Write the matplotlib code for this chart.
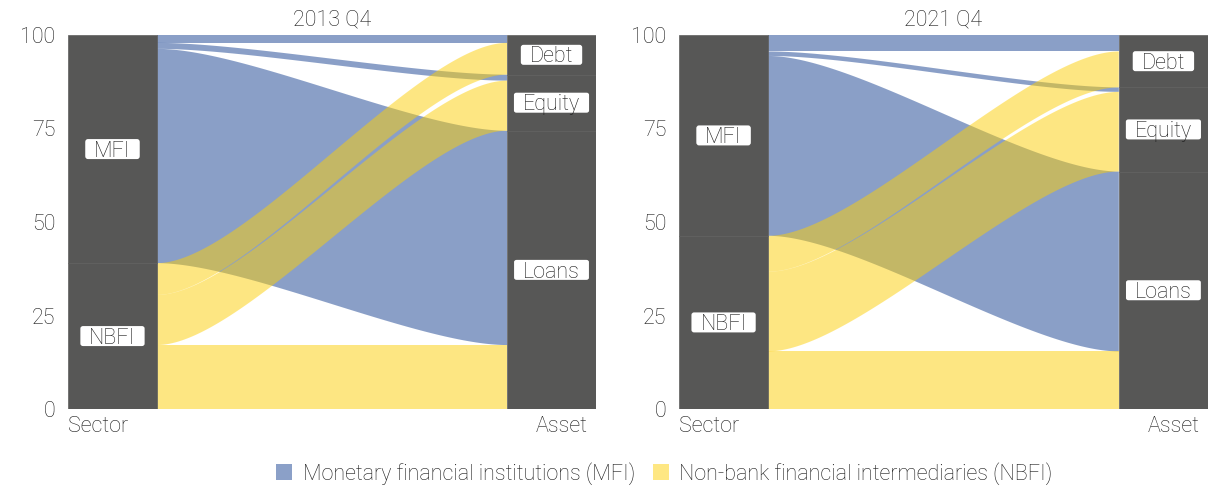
import numpy as np
import matplotlib
matplotlib.use("Agg")
import matplotlib.pyplot as plt
import matplotlib.transforms as mtransforms
from matplotlib.patches import Patch, FancyBboxPatch

plt.rcParams['font.family'] = ['Roboto', 'DejaVu Sans']
plt.rcParams['font.weight'] = 'light'

# datos (porcentaje del total)
sectors = ['NBFI', 'MFI']              # de abajo hacia arriba
assets = ['Loans', 'Equity', 'Debt']   # de abajo hacia arriba
titles = ['2013 Q4', '2021 Q4']
flows_2013 = {'MFI': [57.3, 1.6, 2.1], 'NBFI': [17.1, 13.4, 8.5]}
flows_2021 = {'MFI': [48.1, 1.2, 4.4], 'NBFI': [15.4, 21.3, 9.6]}
legend_labels = ['Monetary financial institutions (MFI)',
                 'Non-bank financial intermediaries (NBFI)']

colors = {'MFI': '#174191', 'NBFI': '#FDCF07'}
bar_color = '#575756'
txt_color = '#1a1a1a'
fs = 15.5
w = 0.2027
labels = []   # (ax, texto) para dibujar las cajas despues


def curve(t):
    # bezier con nudos a 1/4 y 3/4
    xb = 0.75 * (1 - t) ** 2 * t + 2.25 * (1 - t) * t ** 2 + t ** 3
    yb = 3 * t ** 2 - 2 * t ** 3
    return xb, yb


def stratum_label(ax, x, y, s):
    cap = 0.711 * fs
    tr = mtransforms.offset_copy(ax.transData, fig=ax.figure, y=-cap / 2,
                                 units='points')
    t = ax.text(x, y, s, ha='center', va='baseline', fontsize=fs,
                color=txt_color, zorder=5, transform=tr)
    labels.append((ax, t, x, y))


def alluvial(ax, flows, title):
    # posiciones a la izquierda (sector)
    left = {}
    y = 0
    for s in sectors:
        for a, v in zip(assets, flows[s]):
            left[(s, a)] = (y, y + v)
            y += v
    sec_tot = {s: sum(flows[s]) for s in sectors}
    # posiciones a la derecha (activo)
    right = {}
    y = 0
    asset_tot = []
    for i, a in enumerate(assets):
        start = y
        for s in sectors:
            v = flows[s][i]
            right[(s, a)] = (y, y + v)
            y += v
        asset_tot.append((start, y))

    xl, xr = 1 + w / 2, 2 - w / 2
    t = np.linspace(0, 1, 200)
    xb, yb = curve(t)
    xs = xl + (xr - xl) * xb
    for s in ['MFI', 'NBFI']:
        for a in assets:
            l0, l1 = left[(s, a)]
            r0, r1 = right[(s, a)]
            bot = l0 + (r0 - l0) * yb
            top = l1 + (r1 - l1) * yb
            ax.fill(np.concatenate([xs, xs[::-1]]),
                    np.concatenate([bot, top[::-1]]),
                    color=colors[s], alpha=0.5, lw=0, zorder=2)

    # barras de estratos
    y = 0
    for s in sectors:
        ax.bar(1, sec_tot[s], bottom=y, width=w, color=bar_color,
               edgecolor='#5e5e5d', linewidth=0.5, zorder=3)
        stratum_label(ax, 1, y + sec_tot[s] / 2, s)
        y += sec_tot[s]
    for a, (b0, b1) in zip(assets, asset_tot):
        ax.bar(2, b1 - b0, bottom=b0, width=w, color=bar_color,
               edgecolor='#5e5e5d', linewidth=0.5, zorder=3)
        stratum_label(ax, 2, (b0 + b1) / 2, a)

    ax.set_xlim(1 - w / 2, 2 + w / 2)
    ax.set_ylim(0, 100)
    ax.set_yticks([0, 25, 50, 75, 100])
    ax.set_xticks([])
    ax.tick_params(axis='y', length=0, pad=9, labelsize=fs, labelcolor=txt_color)
    for sp in ax.spines.values():
        sp.set_visible(False)
    ax.set_title(title, fontsize=fs, color=txt_color, pad=7, fontweight='light')
    ax.text(0.057, -0.02, 'Sector', transform=ax.transAxes, ha='center',
            va='top', fontsize=fs, color=txt_color)
    ax.text(0.935, -0.02, 'Asset', transform=ax.transAxes, ha='center',
            va='top', fontsize=fs, color=txt_color)


fig = plt.figure(figsize=(12.08, 4.86), dpi=100)
ax1 = fig.add_axes([68 / 1208, 77 / 486, 528 / 1208, 374 / 486])
ax2 = fig.add_axes([679 / 1208, 77 / 486, 529 / 1208, 374 / 486])
alluvial(ax1, flows_2013, titles[0])
alluvial(ax2, flows_2021, titles[1])

# cajas blancas redondeadas detras de las etiquetas
fig.canvas.draw()
renderer = fig.canvas.get_renderer()
for ax, t, x, y in labels:
    bb = t.get_window_extent(renderer)
    cx, cy = ax.transData.transform((x, y))
    bw, bh = bb.width + 18, 20
    inv = ax.transData.inverted()
    (x0, y0) = inv.transform((cx - bw / 2, cy - bh / 2))
    (x1, y1) = inv.transform((cx + bw / 2, cy + bh / 2))
    ax.add_patch(FancyBboxPatch((x0, y0), x1 - x0, y1 - y0,
                                boxstyle='round,pad=0,rounding_size=0.006',
                                mutation_aspect=(y1 - y0) / (x1 - x0) * 3,
                                fc='white', ec='none', zorder=4))

handles = [Patch(facecolor='#8BA0C8', edgecolor='none'),
           Patch(facecolor='#FEE783', edgecolor='none')]
fig.legend(handles, legend_labels, loc='center', bbox_to_anchor=(0.55, 0.026),
           ncol=2, frameon=False, fontsize=fs, handlelength=0.75,
           handleheight=0.75, handletextpad=0.5, columnspacing=0.8,
           labelcolor=txt_color)

fig.savefig('out.png', dpi=100)
